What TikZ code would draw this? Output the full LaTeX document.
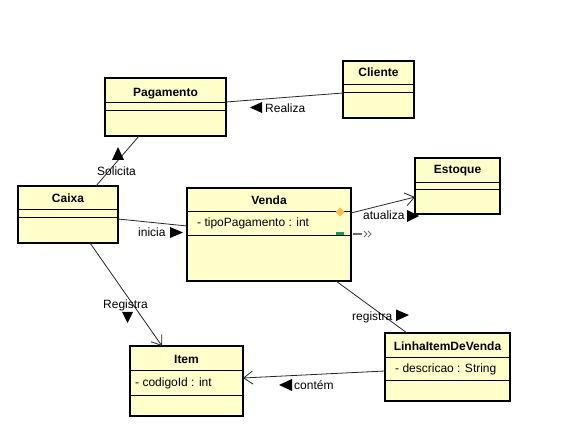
\documentclass[tikz,border=0pt]{standalone}
\usepackage{fontspec}
\setmainfont{Liberation Sans}
\usetikzlibrary{arrows.meta,calc}
\definecolor{clsfill}{RGB}{255,255,204}
\definecolor{diamcol}{RGB}{250,190,75}
\definecolor{grncol}{RGB}{30,150,100}
\definecolor{navgray}{RGB}{110,110,110}
\newcommand\umlclass[9]{%
  \node[clsbox, minimum width={(#4-#2)*1pt}, minimum height={(#5-#3)*1pt}] (#1) at ({(#2+#4)/2},{(#3+#5)/2}) {};
  \draw[sepline] (#2,#6) -- (#4,#6);
  \draw[sepline] (#2,#7) -- (#4,#7);
  \node[ctitle] (#1-title) at ({(#2+#4)/2},#9) {#8};
}
\begin{document}
\begin{tikzpicture}[x=1pt,y=-1pt,
  clsbox/.style={draw=black, line width=2pt, fill=clsfill, rectangle, inner sep=0pt, outer sep=0pt},
  sepline/.style={line width=0.9pt},
  ctitle/.style={font=\fontsize{12}{14}\selectfont\bfseries, anchor=base, inner sep=0pt},
  attr/.style={font=\fontsize{12}{14}\selectfont, anchor=base west, inner sep=0pt},
  lbl/.style={font=\fontsize{12}{14}\selectfont, anchor=base west, inner sep=0pt},
  assoc/.style={line width=0.8pt, draw=black!85},
  nav/.style={assoc, -{Straight Barb[length=9pt,width=13pt,line width=0.8pt]}}]
\useasboundingbox (0,0) rectangle (565,430);
\fill[white] (0,0) rectangle (565,430);
% classes
\umlclass{pag}{105}{78}{226}{136}{102}{110}{Pagamento}{97}
\umlclass{cli}{343}{61}{414}{118}{84}{92}{Cliente}{77}
\umlclass{cai}{18}{186}{118}{243}{209}{217}{Caixa}{203}
\umlclass{ven}{187}{188}{351}{281}{211}{235}{Venda}{205}
\umlclass{est}{415}{158}{500}{214}{182}{189}{Estoque}{174}
\umlclass{ite}{130}{346}{243}{416}{370}{395}{Item}{363}
\umlclass{lin}{385}{333}{510}{401}{357}{380}{LinhaItemDeVenda}{350}
% attributes
\node[attr] (venA) at (197,227) {- tipoPagamento : int};
\node[attr] (iteA) at (135,386) {- codigoId : int};
\node[attr] (linA) at (395,373) {- descricao : String};
% connectors
\draw[assoc] ($(cli.west)+(0,3.5)$) -- ($(pag.east)+(0,-5)$);
\draw[assoc] ($(pag.south west)+(34,0)$) -- ($(cai.north west)+(78,0)$);
\draw[assoc] ($(cai.east)+(0,4.5)$) -- ($(ven.west)+(0,-8.5)$);
\draw[nav] ($(ven.east)+(0,-21.5)$) -- ($(est.west)+(0,11)$);
\draw[nav] ($(cai.south west)+(72,0)$) -- ($(ite.north west)+(32,0)$);
\draw[assoc] ($(ven.south west)+(149,0)$) -- ($(lin.north west)+(22,0)$);
\draw[nav] ($(lin.west)+(0,4)$) -- ($(ite.east)+(0,-3)$);
% labels
\node[lbl] (lRealiza) at (265,113) {Realiza};
\fill (250,107.5) -- (262,102) -- (262,113) -- cycle;
\node[lbl] (lSolicita) at (97,176) {Solicita};
\fill (118,147) -- (124,160) -- (112,160) -- cycle;
\node[lbl] (lInicia) at (138,237) {inicia};
\fill (183,232.5) -- (170,227) -- (170,238) -- cycle;
\node[lbl] (lAtualiza) at (363,220) {atualiza};
\fill (419,216) -- (407,210) -- (407,222) -- cycle;
\node[lbl] (lRegistraA) at (103,309) {Registra};
\fill (127.5,323) -- (122,312) -- (133,312) -- cycle;
\node[lbl] (lRegistraB) at (352,320) {registra};
\fill (409,315) -- (396,309.5) -- (396,321) -- cycle;
\node[lbl] (lContem) at (294,389) {contém};
\fill (279,385) -- (292,379) -- (292,391) -- cycle;
% Venda handles
\fill[diamcol] (340,207.5) -- (344.5,212) -- (340,216.5) -- (335.5,212) -- cycle;
\fill[grncol] (336,232) rectangle (344,235.5);
\draw[navgray, line width=1.8pt] (353,234) -- (362,234);
\draw[navgray, line width=1pt] (364,231) -- (367,234) -- (364,237);
\draw[navgray, line width=1pt] (368,231) -- (371,234) -- (368,237);
\end{tikzpicture}
\end{document}
